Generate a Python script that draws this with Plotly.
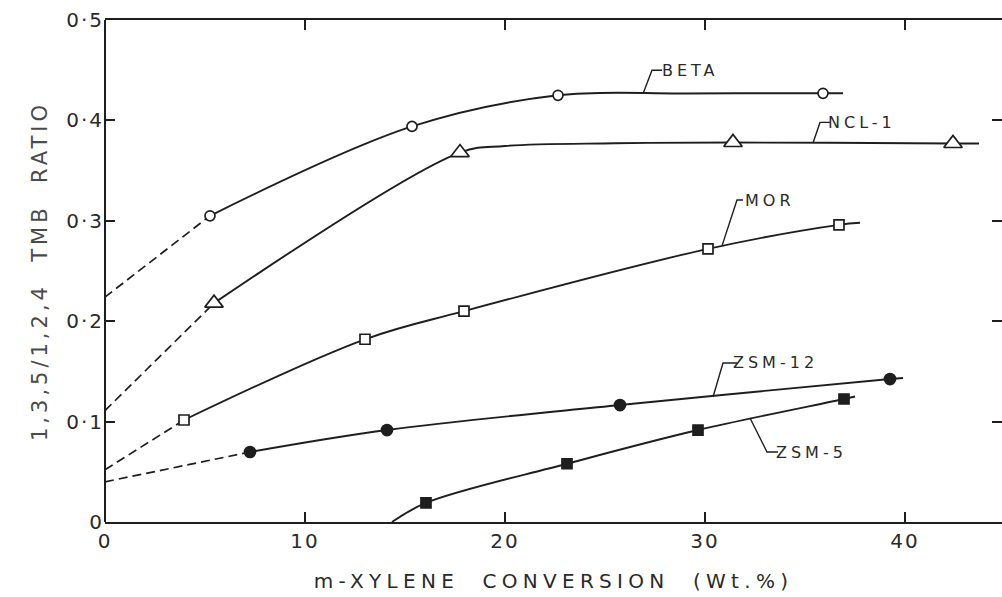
import plotly.graph_objects as go

# ---------------- data ----------------
beta_x = [5.25, 15.35, 22.65, 35.9]
beta_y = [0.305, 0.394, 0.425, 0.427]
ncl_x = [5.45, 17.75, 31.4, 42.4]
ncl_y = [0.218, 0.368, 0.378, 0.377]
mor_x = [3.95, 13.0, 17.95, 30.15, 36.7]
mor_y = [0.1016, 0.182, 0.210, 0.272, 0.296]
zsm12_x = [7.25, 14.1, 25.75, 39.25]
zsm12_y = [0.0697, 0.0916, 0.1165, 0.1424]
zsm5_x = [16.05, 23.1, 29.65, 36.95]
zsm5_y = [0.019, 0.058, 0.0916, 0.1225]

# extra points (where the curve runs between markers)
beta_curve_x = [29.0]
beta_curve_y = [0.4268]
ncl_curve_x = [20.0, 25.5]
ncl_curve_y = [0.3745, 0.3772]

# where each drawn curve ends (beyond its last point)
beta_end = [36.9, 0.427]
ncl_end = [43.7, 0.377]
mor_end = [37.75, 0.298]
zsm12_end = [39.9, 0.1435]
zsm5_end = [37.5, 0.125]
# ZSM-5 curve rises from the axis
zsm5_start_x = [14.35]
zsm5_start_y = [0.0]

# dashed extrapolations to zero conversion (intercepts)
beta_y0 = 0.224
ncl_y0 = 0.111
mor_y0 = 0.052
zsm12_y0 = 0.040

x_ticks = [0, 10, 20, 30, 40]
x_tick_text = ["0", "10", "20", "30", "40"]
y_ticks = [0, 0.1, 0.2, 0.3, 0.4, 0.5]
y_tick_text = ["0", "0·1", "0·2", "0·3", "0·4", "0·5"]

labels = ["BETA", "NCL-1", "MOR", "ZSM-12", "ZSM-5"]
# leader: point on curve, elbow, end of horizontal stroke (data coords)
leaders = [
    [(26.9, 0.4265), (27.35, 0.450), (27.85, 0.450)],
    [(35.4, 0.3775), (35.75, 0.398), (36.25, 0.398)],
    [(30.85, 0.275), (31.6, 0.3207), (31.9, 0.3207)],
    [(30.4, 0.1245), (30.9, 0.1584), (31.6, 0.1584)],
    [(32.25, 0.1036), (33.1, 0.0697), (33.65, 0.0697)],
]

INK = "#1e1e1e"
TXT = "#2a2a2a"
FONT = "DejaVu Sans"

fig = go.Figure()


def merge(xs, ys, ex, ey):
    pts = sorted(zip(list(xs) + list(ex), list(ys) + list(ey)))
    return [p[0] for p in pts], [p[1] for p in pts]


def add_series(xs, ys, y0, end, symbol, size, filled, extra=([], []), start=None):
    if y0 is not None:
        fig.add_trace(go.Scatter(x=[0, xs[0]], y=[y0, ys[0]], mode="lines",
                                 line=dict(color=INK, width=1.7, dash="9px,5px"),
                                 hoverinfo="skip", showlegend=False))
    ex, ey = list(extra[0]) + [end[0]], list(extra[1]) + [end[1]]
    if start is not None:
        ex += list(start[0])
        ey += list(start[1])
    cx, cy = merge(xs, ys, ex, ey)
    fig.add_trace(go.Scatter(x=cx, y=cy, mode="lines",
                             line=dict(color=INK, width=1.9, shape="spline", smoothing=1.0),
                             hoverinfo="skip", showlegend=False))
    fig.add_trace(go.Scatter(x=xs, y=ys, mode="markers", showlegend=False,
                             marker=dict(symbol=symbol, size=size,
                                         color=INK if filled else "white",
                                         line=dict(color=INK, width=1.7))))


add_series(beta_x, beta_y, beta_y0, beta_end, "circle", 10, False,
           extra=(beta_curve_x, beta_curve_y))
add_series(ncl_x, ncl_y, ncl_y0, ncl_end, "triangle-up", 16, False,
           extra=(ncl_curve_x, ncl_curve_y))
add_series(mor_x, mor_y, mor_y0, mor_end, "square", 10, False)
add_series(zsm12_x, zsm12_y, zsm12_y0, zsm12_end, "circle", 11, True)
add_series(zsm5_x, zsm5_y, None, zsm5_end, "square", 10, True,
           start=(zsm5_start_x, zsm5_start_y))

for name, pts in zip(labels, leaders):
    (ax, ay), (bx, by), (cx, cy) = pts
    fig.add_shape(type="path", xref="x", yref="y",
                  path=f"M {ax},{ay} L {bx},{by} L {cx},{cy}",
                  line=dict(color=INK, width=1.4))
    fig.add_annotation(x=cx, y=cy, xref="x", yref="y", text=name,
                       showarrow=False, xanchor="left", yanchor="middle", xshift=6,
                       font=dict(family=FONT, size=16, color=TXT))

# left axis line (right side shows ticks only)
fig.add_shape(type="line", xref="paper", yref="paper", x0=0, x1=0, y0=0, y1=1,
              line=dict(color=INK, width=2))

fig.update_xaxes(range=[0, 44.85], tickmode="array", tickvals=x_ticks, ticktext=x_tick_text,
                 ticks="inside", ticklen=10, tickwidth=2, tickcolor=INK,
                 showline=True, linecolor=INK, linewidth=2, mirror="ticks",
                 showgrid=False, zeroline=False,
                 tickfont=dict(family=FONT, size=20, color=TXT),
                 title=dict(text="m-XYLENE  CONVERSION  (Wt.%)", standoff=22,
                            font=dict(family=FONT, size=20, color=TXT)))
fig.update_yaxes(range=[0, 0.5], tickmode="array", tickvals=y_ticks, ticktext=y_tick_text,
                 ticks="inside", ticklen=10, tickwidth=2, tickcolor=INK,
                 showline=False, mirror="ticks",
                 showgrid=False, zeroline=False,
                 tickfont=dict(family=FONT, size=20, color=TXT),
                 title=dict(text="1,3,5/1,2,4  TMB  RATIO", standoff=18,
                            font=dict(family=FONT, size=21, color="#4a4a4a")))

fig.update_layout(width=1002, height=597, margin=dict(l=105, r=0, t=20, b=75),
                  paper_bgcolor="white", plot_bgcolor="white", showlegend=False)

post = """
var st = document.createElement('style');
st.textContent = '.xtitle{letter-spacing:5.3px}.ytitle{letter-spacing:4px}.xtick text,.ytick text{letter-spacing:2px}.annotation-text{letter-spacing:4px}';
document.head.appendChild(st);
"""
fig.write_html("out.html", post_script=post)
